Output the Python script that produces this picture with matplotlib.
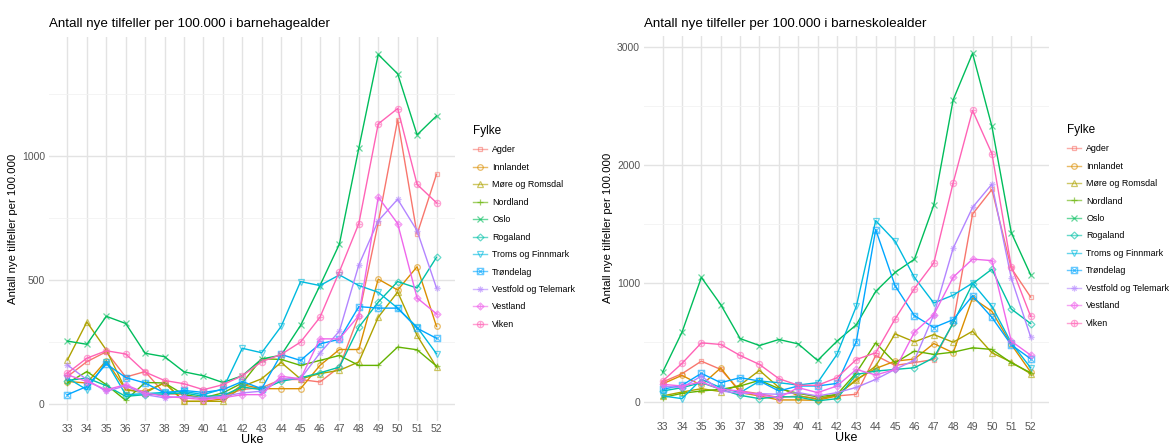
import numpy as np
import matplotlib
matplotlib.use("Agg")
import matplotlib.pyplot as plt
from matplotlib.path import Path
from matplotlib.ticker import MultipleLocator

plt.rcParams['font.family'] = ['Liberation Sans', 'DejaVu Sans']

weeks = list(range(33, 53))
fylker = ["Agder", "Innlandet", "Møre og Romsdal", "Nordland", "Oslo", "Rogaland",
          "Troms og Finnmark", "Trøndelag", "Vestfold og Telemark", "Vestland", "Viken"]

# barnehagealder (left)
bh_agder = [109, 169, 209, 107, 129, 40, 37, 17, 30, 57, 64, 97, 97, 87, 147, 355, 730, 1145, 683, 925]
bh_innlandet = [89, 83, 173, 56, 49, 83, 9, 9, 19, 76, 60, 60, 60, 154, 218, 218, 502, 458, 552, 311]
bh_more = [176, 329, 216, 56, 43, 85, 9, 9, 9, 69, 100, 166, 99, 121, 134, 168, 348, 450, 275, 147]
bh_nordland = [83, 129, 76, 13, 85, 83, 36, 23, 43, 83, 181, 178, 154, 174, 194, 154, 154, 228, 217, 151]
bh_oslo = [252, 239, 352, 323, 203, 189, 128, 112, 85, 112, 180, 195, 315, 476, 643, 1030, 1408, 1330, 1084, 1160]
bh_rogaland = [93, 103, 72, 29, 36, 39, 43, 29, 32, 67, 56, 90, 104, 124, 147, 308, 409, 492, 466, 590]
bh_troms = [103, 56, 169, 36, 40, 45, 49, 36, 59, 223, 205, 311, 492, 476, 519, 476, 449, 385, 308, 201]
bh_trondelag = [36, 69, 160, 105, 83, 43, 53, 45, 56, 89, 60, 198, 174, 241, 259, 391, 385, 385, 304, 263]
bh_vestfold = [156, 96, 49, 72, 36, 23, 29, 23, 29, 43, 50, 100, 100, 204, 292, 559, 737, 824, 697, 466]
bh_vestland = [116, 89, 56, 76, 43, 29, 23, 16, 23, 36, 36, 110, 100, 261, 261, 355, 833, 726, 426, 362]
bh_viken = [123, 183, 213, 200, 127, 93, 80, 56, 76, 112, 169, 198, 248, 348, 532, 726, 1128, 1190, 884, 810]

# barneskolealder (right)
bs_agder = [166, 236, 342, 272, 90, 67, 34, 48, 25, 48, 62, 390, 306, 330, 356, 665, 1585, 1794, 1128, 884]
bs_innlandet = [150, 222, 138, 285, 76, 48, 14, 14, 11, 48, 188, 280, 342, 360, 491, 413, 876, 763, 483, 250]
bs_more = [48, 81, 109, 85, 140, 264, 120, 50, 20, 60, 180, 300, 573, 505, 567, 502, 595, 413, 334, 236]
bs_nordland = [34, 70, 90, 104, 132, 180, 110, 70, 40, 60, 244, 497, 328, 427, 399, 418, 455, 441, 328, 244]
bs_oslo = [250, 587, 1050, 820, 533, 474, 525, 488, 348, 511, 650, 932, 1092, 1204, 1662, 2552, 2945, 2327, 1429, 1072]
bs_rogaland = [90, 118, 160, 104, 53, 25, 42, 39, 6, 25, 230, 258, 272, 286, 371, 665, 996, 1120, 783, 660]
bs_troms = [48, 25, 188, 118, 76, 174, 160, 140, 160, 399, 806, 1530, 1357, 1050, 834, 900, 1002, 806, 497, 286]
bs_trondelag = [104, 138, 239, 160, 202, 174, 90, 132, 132, 154, 508, 1454, 980, 727, 626, 693, 895, 712, 480, 362]
bs_vestfold = [132, 118, 216, 90, 70, 67, 62, 76, 48, 76, 120, 188, 272, 350, 735, 1297, 1642, 1839, 1044, 547]
bs_vestland = [146, 132, 166, 104, 90, 56, 34, 118, 76, 132, 272, 225, 272, 587, 735, 1052, 1205, 1192, 511, 393]
bs_viken = [174, 323, 497, 483, 390, 314, 194, 138, 138, 202, 356, 413, 699, 956, 1173, 1850, 2462, 2097, 1142, 721]

bh = [bh_agder, bh_innlandet, bh_more, bh_nordland, bh_oslo, bh_rogaland,
      bh_troms, bh_trondelag, bh_vestfold, bh_vestland, bh_viken]
bs = [bs_agder, bs_innlandet, bs_more, bs_nordland, bs_oslo, bs_rogaland,
      bs_troms, bs_trondelag, bs_vestfold, bs_vestland, bs_viken]

colors = ["#F8766D", "#DB8E00", "#AEA200", "#64B200", "#00BD5C", "#00C1A7",
          "#00BADE", "#00A6FF", "#B385FF", "#EF67EB", "#FF63B6"]

# ggplot shapes 0..10
M, L, C = Path.MOVETO, Path.LINETO, Path.CLOSEPOLY
plus = Path([(-1, 0), (1, 0), (0, -1), (0, 1)], [M, L, M, L])
cross = Path([(-0.7, -0.7), (0.7, 0.7), (-0.7, 0.7), (0.7, -0.7)], [M, L, M, L])
square = Path([(-0.7, -0.7), (0.7, -0.7), (0.7, 0.7), (-0.7, 0.7), (-0.7, -0.7)], [M, L, L, L, C])
diamond = Path([(0, -1), (1, 0), (0, 1), (-1, 0), (0, -1)], [M, L, L, L, C])
sq_cross = Path.make_compound_path(square, cross)
asterisk = Path.make_compound_path(plus, cross)
dia_plus = Path.make_compound_path(diamond, plus)
circ_plus = Path.make_compound_path(Path.unit_circle(), plus)
markers = ['s', 'o', '^', '+', 'x', 'D', 'v', sq_cross, asterisk, dia_plus, circ_plus]
msizes = [3.5, 4, 4, 4.5, 4, 3.5, 4, 4.5, 4.5, 5, 4.5]

fig = plt.figure(figsize=(11.75, 4.46), dpi=100)
ax1 = fig.add_axes([0.0417, 0.056, 0.3455, 0.861])
ax2 = fig.add_axes([0.5483, 0.0605, 0.3445, 0.859])


def draw(ax, series, title, major, minor, tpad):
    for name, vals, col, mk, ms in zip(fylker, series, colors, markers, msizes):
        ax.plot(weeks, vals, color=col, lw=1.0, label=name, marker=mk, ms=ms,
                mfc='none', mec=col + "99", mew=0.9)
    ymax = max(max(v) for v in series)
    ax.set_xlim(33 - 0.95, 52 + 0.95)
    ax.set_ylim(-0.05 * ymax, 1.05 * ymax)
    ax.set_xticks(weeks)
    ax.yaxis.set_major_locator(MultipleLocator(major))
    ax.yaxis.set_minor_locator(MultipleLocator(minor))
    ax.grid(True, which='major', color='#e3e3e3', lw=1.0)
    ax.grid(True, which='minor', axis='y', color='#f2f2f2', lw=0.6)
    ax.set_axisbelow(True)
    for s in ax.spines.values():
        s.set_visible(False)
    ax.tick_params(which='both', length=0, labelsize=7.5, colors='#555555')
    ax.tick_params(axis='x', pad=2)
    ax.tick_params(axis='y', pad=3)
    ax.set_xlabel("Uke", fontsize=9, labelpad=0)
    ax.set_ylabel("Antall nye tilfeller per 100.000", fontsize=8.2, labelpad=3)
    ax.set_title(title, fontsize=9.6, loc='left', pad=tpad)
    leg = ax.legend(loc='upper left', bbox_to_anchor=(1.035, 0.78), frameon=False,
                    title="Fylke", fontsize=6.4, title_fontsize=8.5, alignment='left',
                    handlelength=1.6, labelspacing=0.95, handletextpad=0.6,
                    borderaxespad=0.0)
    for h in leg.legend_handles:
        h.set_alpha(0.6)


draw(ax1, bh, "Antall nye tilfeller per 100.000 i barnehagealder", 500, 250, 7.5)
draw(ax2, bs, "Antall nye tilfeller per 100.000 i barneskolealder", 1000, 500, 6.5)

fig.savefig("out.png", dpi=100)
